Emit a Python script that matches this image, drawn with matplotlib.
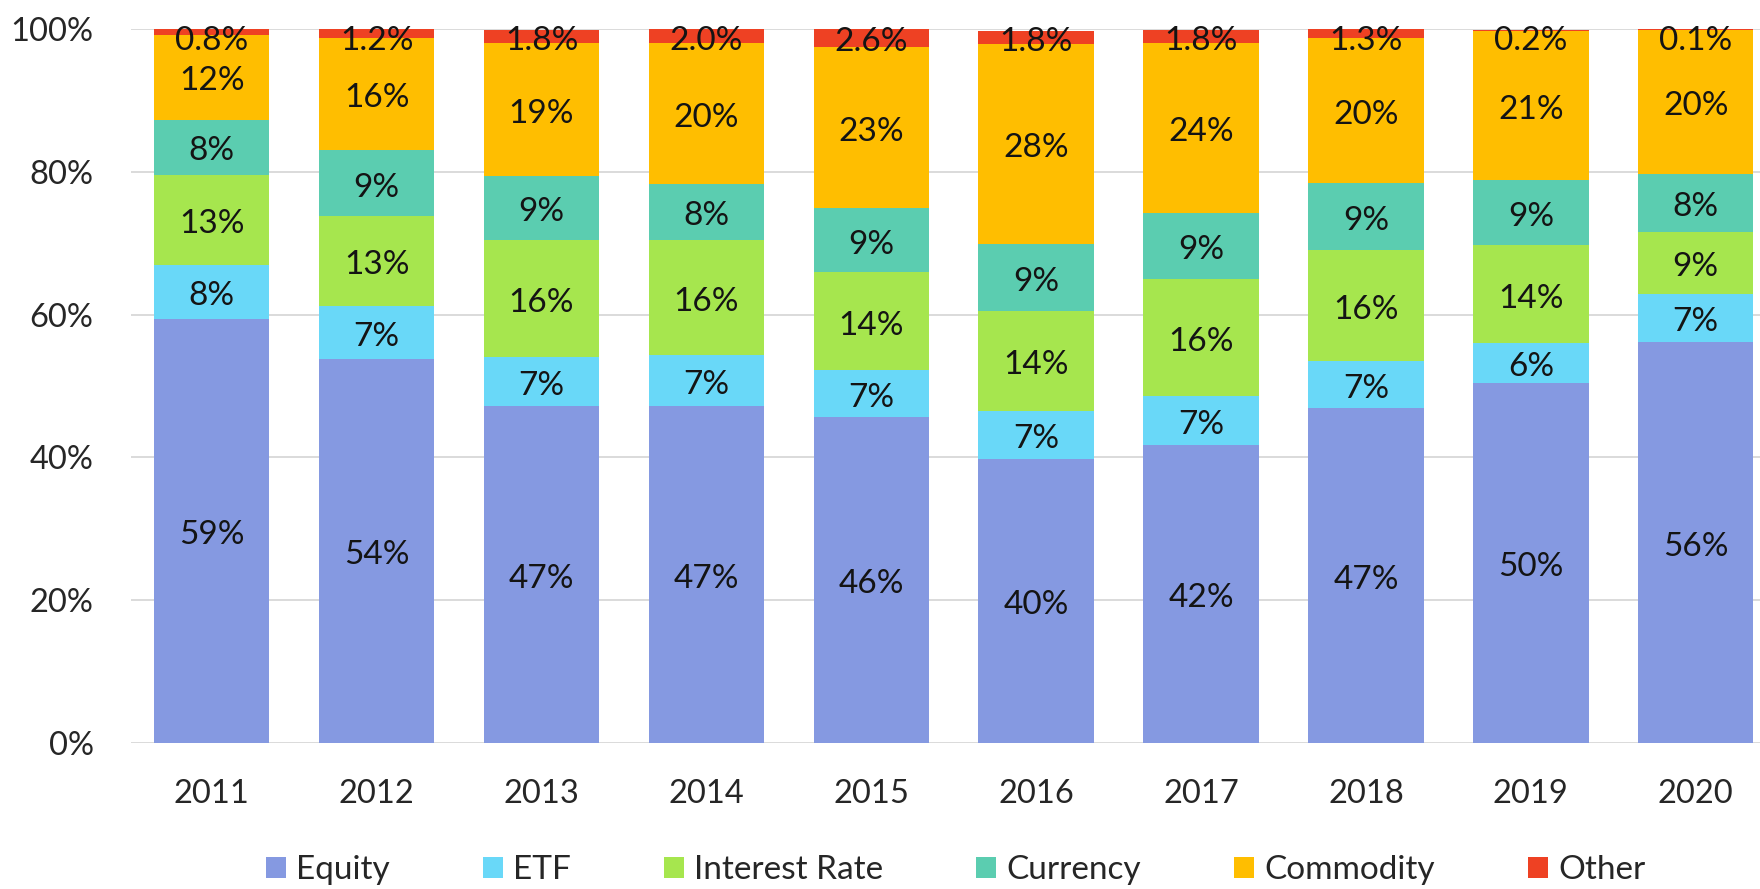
import matplotlib
matplotlib.use("Agg")
import matplotlib.pyplot as plt
from matplotlib.patches import Patch
import numpy as np

plt.rcParams['font.family'] = ['Lato', 'DejaVu Sans']

years = ["2011", "2012", "2013", "2014", "2015", "2016", "2017", "2018", "2019", "2020"]
categories = ["Equity", "ETF", "Interest Rate", "Currency", "Commodity", "Other"]

equity = [59.4, 53.8, 47.2, 47.2, 45.6, 39.8, 41.8, 46.9, 50.4, 56.1]
etf = [7.6, 7.4, 6.9, 7.2, 6.6, 6.7, 6.8, 6.6, 5.6, 6.8]
interest_rate = [12.6, 12.6, 16.3, 16.0, 13.7, 14.0, 16.4, 15.6, 13.7, 8.6]
currency = [7.7, 9.2, 9.0, 7.9, 9.0, 9.4, 9.2, 9.3, 9.1, 8.2]
commodity = [11.9, 15.8, 18.7, 19.7, 22.6, 28.0, 23.9, 20.4, 20.9, 20.2]
other = [0.8, 1.2, 1.8, 2.0, 2.6, 1.8, 1.8, 1.3, 0.2, 0.1]

colors = ["#8599E1", "#69D8F8", "#A6E64E", "#5BCDB0", "#FFBE00", "#EE4123"]

series = [equity, etf, interest_rate, currency, commodity, other]

fig = plt.figure(figsize=(17.6, 8.89), dpi=100)
ax = fig.add_axes([131 / 1760, 1 - 743 / 889, 1 - 131 / 1760, (743 - 29) / 889])

x = np.arange(len(years))
bottom = np.zeros(len(years))
for name, vals, col in zip(categories, series, colors):
    vals = np.array(vals)
    ax.bar(x, vals, width=0.7, bottom=bottom, color=col, zorder=2)
    for xi, b, v in zip(x, bottom, vals):
        if name == "Other":
            txt = f"{v:.1f}%"
            yc = min(b + v / 2 - 0.6, 98.3)
        else:
            txt = f"{v:.0f}%"
            yc = b + v / 2 - 0.6
        ax.text(xi, yc, txt, ha='center', va='center', fontsize=24,
                color='#141414', zorder=3)
    bottom += vals

ax.set_ylim(0, 100)
ax.set_xlim(-0.49, 9.39)
ax.set_yticks(range(0, 101, 20))
ax.set_yticklabels([f"{t}%" for t in range(0, 101, 20)])
ax.set_xticks(x)
ax.set_xticklabels(years)
ax.yaxis.grid(True, color='#d4d4d4', linewidth=1.2, zorder=0)
ax.set_axisbelow(True)
for s in ax.spines.values():
    s.set_visible(False)
ax.tick_params(axis='both', length=0, labelsize=23.5, colors='#262626')
ax.tick_params(axis='y', pad=27)
ax.tick_params(axis='x', pad=26)

handles = [Patch(facecolor=c, edgecolor='none') for c in colors]
fig.legend(handles, categories, loc='center', ncol=6, frameon=False,
           bbox_to_anchor=(0.543, 1 - 870 / 889), fontsize=24,
           handlelength=0.6, handleheight=0.6, handletextpad=0.3,
           columnspacing=2.8, labelcolor='#262626')

fig.savefig("out.png", dpi=100)
